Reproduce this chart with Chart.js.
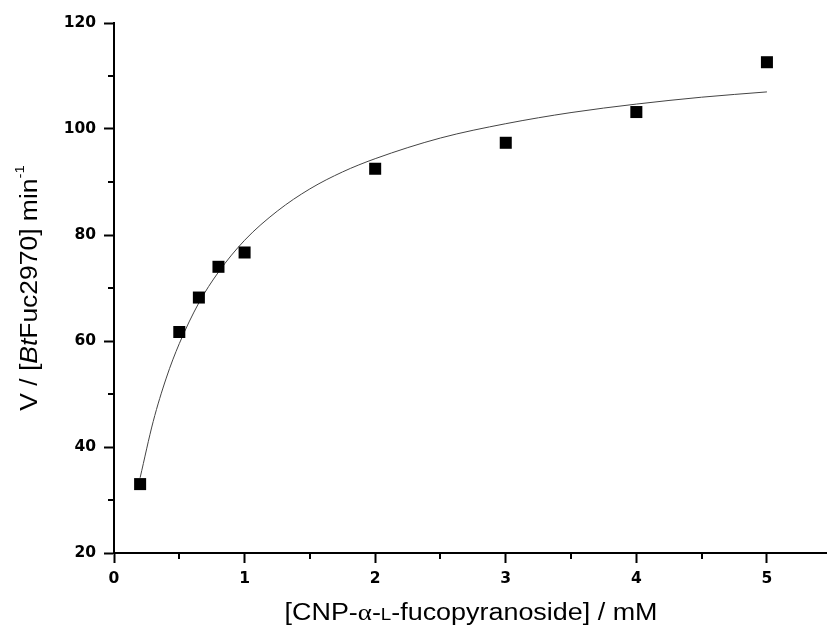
<!DOCTYPE html>
<html>
<head>
<meta charset="utf-8">
<script src="https://cdn.jsdelivr.net/npm/chart.js@4/dist/chart.umd.min.js"></script>
<style>
  html, body { margin: 0; padding: 0; background: #fff; }
  canvas { display: block; }
</style>
</head>
<body>
<canvas id="kinetics" width="827" height="626"></canvas>
<script>
// Substrate concentration (mM) and measured initial rates
const concentration = [0.2, 0.5, 0.65, 0.8, 1.0, 2.0, 3.0, 4.0, 5.0];
const velocity = [33.0, 61.7, 68.2, 74.0, 76.7, 92.5, 97.4, 103.2, 112.6];

// Fitted Michaelis–Menten curve, sampled along the substrate range
const fitConcentration = [0.2, 0.3, 0.4, 0.5, 0.65, 0.8, 1.0, 1.25, 1.5, 1.75, 2.0, 2.5, 3.0, 3.5, 4.0, 4.5, 5.0];
const fitVelocity = [34.2, 44.8, 53.0, 59.5, 67.2, 73.0, 79.0, 84.5, 88.7, 91.9, 94.4, 98.3, 101.0, 103.1, 104.7, 106.0, 107.0];

// Axis ticks
const xMajorTicks = [0, 1, 2, 3, 4, 5];
const xMinorTicks = [0.5, 1.5, 2.5, 3.5, 4.5];
const yMajorTicks = [20, 40, 60, 80, 100, 120];
const yMinorTicks = [30, 50, 70, 90, 110];

const TITLE_FONT = '"Liberation Sans", Arial, sans-serif';

// Draws a run of differently styled text pieces centred on (cx, baseline)
function drawRichText(ctx, parts, cx, baseline, stretch) {
  let total = 0;
  parts.forEach(p => { ctx.font = p.font; p.w = ctx.measureText(p.text).width; total += p.w; });
  ctx.save();
  ctx.translate(cx, baseline);
  ctx.scale(stretch, 1);
  let x = -total / 2;
  ctx.textAlign = 'left';
  ctx.textBaseline = 'alphabetic';
  ctx.fillStyle = '#000';
  parts.forEach(p => {
    ctx.font = p.font;
    ctx.fillText(p.text, x, -(p.rise || 0));
    x += p.w;
  });
  ctx.restore();
}

// Minor tick marks and the two axis titles
const axisDecor = {
  id: 'axisDecor',
  afterDraw(chart) {
    const { ctx, chartArea, scales } = chart;
    const xs = scales.x, ys = scales.y;
    ctx.save();
    ctx.strokeStyle = '#000';
    ctx.lineWidth = 2;
    ctx.beginPath();
    xMinorTicks.forEach(v => {
      const px = Math.round(xs.getPixelForValue(v));
      ctx.moveTo(px, chartArea.bottom);
      ctx.lineTo(px, chartArea.bottom + 6);
    });
    yMinorTicks.forEach(v => {
      const py = Math.round(ys.getPixelForValue(v));
      ctx.moveTo(chartArea.left, py);
      ctx.lineTo(chartArea.left - 6, py);
    });
    ctx.stroke();
    ctx.restore();

    // x-axis title
    drawRichText(ctx, [
      { text: '[CNP-', font: `23px ${TITLE_FONT}` },
      { text: '\u03b1', font: '23px "Liberation Serif", serif' },
      { text: '-', font: `23px ${TITLE_FONT}` },
      { text: 'L', font: `16px ${TITLE_FONT}` },
      { text: '-fucopyranoside] / mM', font: `23px ${TITLE_FONT}` }
    ], 471, 620, 1.17);

    // y-axis title (rotated)
    ctx.save();
    ctx.translate(37, (chartArea.top + chartArea.bottom) / 2);
    ctx.rotate(-Math.PI / 2);
    drawRichText(ctx, [
      { text: 'V / [', font: `23px ${TITLE_FONT}` },
      { text: 'Bt', font: `italic 23px ${TITLE_FONT}` },
      { text: 'Fuc2970] min', font: `23px ${TITLE_FONT}` },
      { text: '-1', font: `13px ${TITLE_FONT}`, rise: 13 }
    ], 0, 0, 1.15);
    ctx.restore();
  }
};

const tickFont = { family: '"DejaVu Sans", sans-serif', size: 15.5, weight: 'bold' };

new Chart(document.getElementById('kinetics'), {
  type: 'scatter',
  data: {
    datasets: [
      {
        label: 'measured',
        data: concentration.map((c, i) => ({ x: c, y: velocity[i] })),
        pointStyle: 'rect',
        pointRadius: 8.5,
        pointHoverRadius: 8.5,
        backgroundColor: '#000',
        borderWidth: 0,
        order: 0
      },
      {
        label: 'fit',
        data: fitConcentration.map((c, i) => ({ x: c, y: fitVelocity[i] })),
        showLine: true,
        pointRadius: 0,
        borderColor: '#444',
        borderWidth: 1,
        cubicInterpolationMode: 'monotone',
        fill: false,
        order: 1
      }
    ]
  },
  options: {
    responsive: false,
    animation: false,
    events: [],
    layout: { autoPadding: false, padding: { top: 23, right: 0, left: 0, bottom: 0 } },
    plugins: { legend: { display: false }, tooltip: { enabled: false } },
    scales: {
      x: {
        type: 'linear',
        min: 0,
        max: 5.46,
        afterBuildTicks: s => { s.ticks = xMajorTicks.map(v => ({ value: v })); },
        afterFit: s => { s.height = 73; s.paddingLeft = 0; s.paddingRight = 0; },
        border: { display: true, color: '#000', width: 2 },
        grid: { drawOnChartArea: false, drawTicks: true, tickLength: 10, tickWidth: 2, tickColor: '#000' },
        ticks: { color: '#000', font: tickFont, padding: 7, maxRotation: 0, autoSkip: false }
      },
      y: {
        type: 'linear',
        min: 20,
        max: 120,
        afterBuildTicks: s => { s.ticks = yMajorTicks.map(v => ({ value: v })); },
        afterFit: s => { s.width = 114; },
        border: { display: true, color: '#000', width: 2 },
        grid: { drawOnChartArea: false, drawTicks: true, tickLength: 10, tickWidth: 2, tickColor: '#000' },
        ticks: { color: '#000', font: tickFont, padding: 8, autoSkip: false }
      }
    }
  },
  plugins: [axisDecor]
});
</script>
</body>
</html>
